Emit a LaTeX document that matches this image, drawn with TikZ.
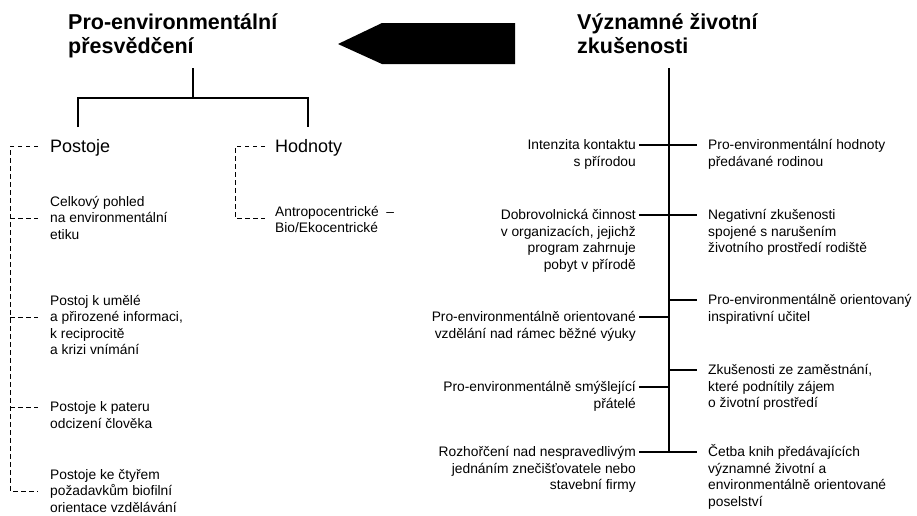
\documentclass[tikz,border=0pt]{standalone}
\usepackage{fontspec}
\setmainfont{Liberation Sans}
\newcommand{\myrl}{\rule{0pt}{13pt}}
\newcommand{\myrlt}{\rule{0pt}{17pt}}
\begin{document}
\begin{tikzpicture}[x=1pt,y=-1pt,
  body/.style={font=\fontsize{13.8}{16.5}\selectfont, inner ysep=0pt},
  lefttxt/.style={body, anchor=north east, align=right, inner xsep=3pt},
  righttxt/.style={body, anchor=north west, align=left, inner xsep=11pt},
  subtxt/.style={body, anchor=north west, align=left, inner xsep=12pt},
  head/.style={font=\fontsize{21.5}{24}\selectfont\bfseries, anchor=north west, align=left, inner sep=0pt},
  cat/.style={font=\fontsize{18}{21}\selectfont, anchor=base west, inner xsep=12pt},
  conn/.style={line width=1.2pt},
  dsh/.style={line width=0.8pt, dash pattern=on 4.5pt off 3.5pt}]
\useasboundingbox (0,0) rectangle (917,515);

% titles
\node[head] (TL) at (68,12.5) {\myrlt Pro-environmentální\\přesvědčení};
\node[head] (TR) at (577,12.5) {\myrlt Významné životní\\zkušenosti};

% big arrow
\fill (338,44) -- (382,23) -- (515,23) -- (515,64) -- (382,64) -- cycle;

% left tree
\coordinate (lt0) at (193,68);
\coordinate (lj) at (193,98);
\coordinate (lb1) at (78,127);
\coordinate (lb2) at (308,127);
\draw[conn] (lt0) -- (lj);
\draw[conn] (lb1) |- (lj) -| (lb2);

% categories
\node[cat] (POS) at (38,152) {Postoje};
\node[cat, inner xsep=10pt] (HOD) at (265,152) {Hodnoty};

% Postoje items
\node[subtxt] (P1) at (38,193) {\myrl Celkový pohled\\na environmentální\\etiku};
\node[subtxt] (P2) at (38,292) {\myrl Postoj k umělé\\a přirozené informaci,\\k reciprocitě\\a krizi vnímání};
\node[subtxt] (P3) at (38,398.5) {\myrl Postoje k pateru\\odcizení člověka};
\node[subtxt] (P4) at (38,466) {\myrl Postoje ke čtyřem\\požadavkům biofilní\\orientace vzdělávání};

% Hodnoty item
\node[subtxt, inner xsep=10pt] (H1) at (265,203) {\myrl Antropocentrické~~–\\Bio/Ekocentrické};

% dashed brackets
\coordinate (d0) at (10,146);
\coordinate (d1) at (10,218);
\coordinate (d2) at (10,317);
\coordinate (d3) at (10,407);
\coordinate (d4) at (10,491);
\draw[dsh] (d0 -| POS.west) -- (d0) -- (d4) -- (d4 -| P4.west);
\draw[dsh] (d1) -- (d1 -| P1.west);
\draw[dsh] (d2) -- (d2 -| P2.west);
\draw[dsh] (d3) -- (d3 -| P3.west);
\coordinate (h0) at (235,146);
\coordinate (h1) at (235,218);
\draw[dsh] (h0 -| HOD.west) -- (h0) -- (h1) -- (h1 -| H1.west);

% right tree
\coordinate (rt0) at (669,68);
\coordinate (t1) at (669,145);
\coordinate (t2) at (669,215);
\coordinate (t3r) at (669,300);
\coordinate (t3l) at (669,317);
\coordinate (t4r) at (669,370);
\coordinate (t4l) at (669,387);
\coordinate (t5) at (669,452);
\draw[conn] (rt0) -- (t5);

\node[lefttxt] (L1) at (639,136.5) {\myrl Intenzita kontaktu\\s přírodou};
\node[righttxt] (R1) at (697,136.5) {\myrl Pro-environmentální hodnoty\\předávané rodinou};
\node[lefttxt] (L2) at (639,206.5) {\myrl Dobrovolnická činnost\\v organizacích, jejichž\\program zahrnuje\\pobyt v přírodě};
\node[righttxt] (R2) at (697,206.5) {\myrl Negativní zkušenosti\\spojené s narušením\\životního prostředí rodiště};
\node[righttxt] (R3) at (697,291.5) {\myrl Pro-environmentálně orientovaný\\inspirativní učitel};
\node[lefttxt] (L3) at (639,308.5) {\myrl Pro-environmentálně orientované\\vzdělání nad rámec běžné výuky};
\node[righttxt] (R4) at (697,361.5) {\myrl Zkušenosti ze zaměstnání,\\které podnítily zájem\\o životní prostředí};
\node[lefttxt] (L4) at (639,378.5) {\myrl Pro-environmentálně smýšlející\\přátelé};
\node[lefttxt] (L5) at (639,443.5) {\myrl Rozhořčení nad nespravedlivým\\jednáním znečišťovatele nebo\\stavební firmy};
\node[righttxt] (R5) at (697,443.5) {\myrl Četba knih předávajících\\významné životní a\\environmentálně orientované\\poselství};

\draw[conn] (t1 -| L1.east) -- (t1) -- (t1 -| R1.west);
\draw[conn] (t2 -| L2.east) -- (t2) -- (t2 -| R2.west);
\draw[conn] (t3r) -- (t3r -| R3.west);
\draw[conn] (t3l -| L3.east) -- (t3l);
\draw[conn] (t4r) -- (t4r -| R4.west);
\draw[conn] (t4l -| L4.east) -- (t4l);
\draw[conn] (t5 -| L5.east) -- (t5) -- (t5 -| R5.west);
\end{tikzpicture}
\end{document}
